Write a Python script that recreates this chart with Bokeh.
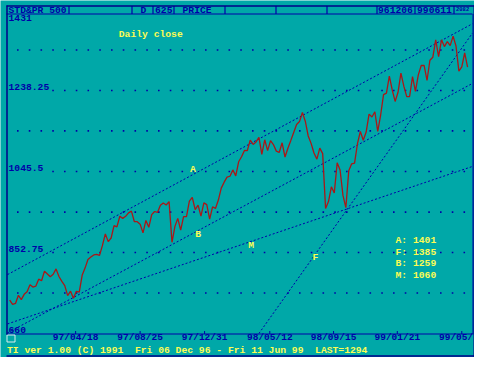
from bokeh.plotting import figure
from bokeh.models import Range1d
from bokeh.embed import file_html
from bokeh.resources import INLINE
from bokeh.core.properties import value

# ---------------- data ----------------
header_cells = ["STD&PR 500", "D", "625", "PRICE", "961206", "990611"]
corner_tag = "2082"
series_name = "Daily close"
footer_text = "TI ver 1.00 (C) 1991  Fri 06 Dec 96 - Fri 11 Jun 99  LAST="

# S&P 500 daily close, read every 4th trading day from 1996-12-06
close = [
    739.6, 729.3, 731.5, 751.0, 740.7, 753.2, 759.5, 776.2, 770.5, 772.5,
    789.3, 785.4, 808.5, 801.8, 795.1, 801.0, 813.7, 795.7, 784.1, 773.9,
    750.1, 760.6, 743.7, 760.4, 758.3, 798.5, 815.6, 836.0, 841.9, 847.0,
    848.3, 846.0, 869.6, 897.0, 878.6, 887.3, 916.9, 913.8, 939.0, 934.0,
    938.8, 947.1, 951.2, 926.5, 926.0, 920.2, 899.5, 929.1, 912.6, 943.0,
    950.3, 948.0, 965.0, 970.6, 965.7, 973.8, 877.0, 914.6, 934.0, 905.9,
    938.2, 938.2, 974.8, 983.8, 954.9, 965.5, 939.5, 970.8, 966.6, 932.0,
    961.5, 957.6, 977.5, 1006.0, 1020.1, 1032.1, 1034.2, 1049.3, 1035.1, 1068.6,
    1080.5, 1095.6, 1095.4, 1120.0, 1110.0, 1115.8, 1126.7, 1086.5, 1121.0, 1095.1,
    1118.9, 1109.5, 1094.0, 1090.8, 1113.9, 1080.0, 1100.7, 1119.5, 1138.5, 1157.3,
    1164.3, 1186.0, 1165.1, 1130.2, 1112.4, 1089.5, 1074.9, 1101.2, 1088.1, 957.3,
    973.9, 1009.1, 994.3, 1066.1, 1049.0, 988.6, 959.4, 1047.5, 1063.9, 1065.3,
    1111.6, 1141.0, 1120.0, 1139.3, 1182.0, 1175.3, 1187.7, 1141.2, 1179.9, 1228.5,
    1231.9, 1272.3, 1239.5, 1212.2, 1234.0, 1279.6, 1248.5, 1223.6, 1224.0, 1271.2,
    1236.2, 1275.5, 1297.7, 1297.8, 1262.1, 1310.2, 1317.3, 1358.6, 1319.0, 1358.8,
    1342.8, 1354.6, 1345.0, 1367.6, 1344.2, 1284.4, 1294.3, 1327.8, 1293.6,
]
day_step = 4
day = list(range(0, day_step * len(close), day_step))

x_tick_day = [91, 180, 269, 359, 447, 535, 624]
x_tick_label = ["97/04/18", "97/08/25", "97/12/31", "98/05/12",
                "98/09/15", "99/01/21", "99/05/27"]

y_label_value = [660.0, 852.75, 1045.5, 1238.25, 1431.0]
y_label_text = ["660", "852.75", "1045.5", "1238.25", "1431"]
y_grid_value = [756.375, 852.75, 948.875, 1045.5, 1142.125, 1238.25, 1334.625]

trend_name = ["A", "F", "B", "M"]
trend_value = [1401, 1385, 1259, 1060]          # value at right edge of chart
trend_anchor_day = [0, 344, 84, 208]
trend_anchor_value = [803, 660, 742, 806]

# ---------------- styling / layout ----------------
TEAL = "#00a8a8"
BLUE = "#0000a8"
DARK = "#000088"
YELLOW = "#fcfc54"
RED = "#a81818"
FONT = value("Liberation Mono")
NBSP = "\u00a0"

W, H = 474, 357
X0, XS = 9.2, 0.7245            # px of day 0, px per trading day
Y0, YS, V0 = 333.0, 81.0 / 192.75, 660.0
RIGHT = 472.0                   # right edge of plot area (px)
CW = 0.6                        # char advance in em


def dx(px):
    return (px - X0) / XS


def dy(py):
    return V0 + (Y0 - py) / YS


def vy(v):
    return Y0 - (v - V0) * YS


p = figure(width=W, height=H, output_backend="svg", toolbar_location=None,
           x_range=Range1d(dx(0), dx(W)),
           y_range=Range1d(dy(H), dy(0)),
           x_axis_location=None, y_axis_location=None, min_border=0,
           background_fill_color=TEAL, border_fill_color=TEAL,
           outline_line_color=None)
p.grid.visible = False


def txt(xs, ys, texts, color, size=9.7, align="left"):
    texts = [t.replace(" ", NBSP) for t in texts]
    p.text(x=xs, y=ys, text=texts, text_color=color, text_font=FONT,
           text_font_size=f"{size}px", text_font_style="bold",
           text_align=align, text_baseline="middle")


# dotted grid rows (dots every 11.75 px)
labelled = set(y_label_value)
dot_x, dot_y = [], []
for v in y_grid_value:
    k0 = 3 if v in labelled else 0
    for k in range(k0, 39):
        dot_x.append(dx(17.3 + 11.75 * k))
        dot_y.append(v)
p.scatter(dot_x, dot_y, marker="square", size=1.6, fill_color=BLUE,
          line_color=None)

# trend lines (value given at the chart's right edge, px 475)
left_d, edge_d, right_d = dx(7.0), dx(475.0), dx(RIGHT)
tx0, ty0, tx1, ty1 = [], [], [], []
for endv, ad, av in zip(trend_value, trend_anchor_day, trend_anchor_value):
    slope = (endv - av) / (edge_d - ad)
    xs = left_d
    vs = av + slope * (left_d - ad)
    if vs < V0:
        xs = ad + (V0 - av) / slope
        vs = V0
    tx0.append(xs)
    ty0.append(vs)
    tx1.append(right_d)
    ty1.append(av + slope * (right_d - ad))
p.segment(x0=tx0, y0=ty0, x1=tx1, y1=ty1,
          line_color=BLUE, line_width=1, line_dash="2 2")

# price line
p.line(day, close, line_color=RED, line_width=1.3)

# trend letters
letter_pos = [(192.3, 169), (315, 257.3), (197.7, 233.7), (250.7, 245)]
txt([dx(a) for a, b in letter_pos], [dy(b) for a, b in letter_pos],
    trend_name, YELLOW, align="center")

# legend block of trend values
leg_y = [240, 251.7, 263.3, 274.7]
txt([dx(395)] * 4, [dy(b) for b in leg_y],
    [f"{n}: {v}" for n, v in zip(trend_name, trend_value)], YELLOW)

# series name
txt([dx(118.3)], [dy(33.7)], [series_name], YELLOW)

# y labels
ylab_y = [dy(max(vy(v) - 3.8, 17.0)) for v in y_label_value]
txt([dx(8.0)] * len(y_label_value), ylab_y, y_label_text, BLUE)

# x axis line, ticks, labels (labels clipped at the plot's right edge)
p.segment(x0=[dx(6)], y0=[dy(333.5)], x1=[dx(RIGHT)], y1=[dy(333.5)],
          line_color=BLUE, line_width=1)
p.segment(x0=x_tick_day, y0=[dy(330.5)] * len(x_tick_day), x1=x_tick_day,
          y1=[dy(333.5)] * len(x_tick_day), line_color=BLUE, line_width=1)
XS_SIZE = 9.5
lab_left, lab_text = [], []
for d, lab in zip(x_tick_day, x_tick_label):
    cx = X0 + XS * d
    left = cx - len(lab) * CW * XS_SIZE / 2
    nfit = int((W - left) / (CW * XS_SIZE))
    lab_left.append(dx(left))
    lab_text.append(lab[:nfit])
txt(lab_left, [dy(337.0)] * len(lab_left), lab_text, BLUE, size=XS_SIZE)

# small square bottom-left
p.quad(left=[dx(6.5)], right=[dx(14.5)], top=[dy(334.5)], bottom=[dy(341.5)],
       fill_color=TEAL, line_color="#d8ecec", line_width=1)

# footer
txt([dx(6.5)], [dy(349.5)], [footer_text + str(round(close[-1]))], YELLOW)

# header bar
sep_x = [68.5, 131.5, 152.5, 173.5, 224.5, 275.5, 326.5, 376.5, 414.5, 453.5]
p.segment(x0=[dx(s) for s in sep_x], y0=[dy(5.5)] * len(sep_x),
          x1=[dx(s) for s in sep_x], y1=[dy(13.5)] * len(sep_x),
          line_color=BLUE, line_width=1.2)
head_x = [8, 140, 154.5, 182, 377.5, 416.5]
txt([dx(h) for h in head_x], [dy(9.8)] * len(head_x), header_cells, BLUE)
txt([dx(455.5)], [dy(8.5)], [corner_tag], BLUE, size=5.5)
p.segment(x0=[dx(6), dx(6)], y0=[dy(5.5), dy(13.5)],
          x1=[dx(474), dx(RIGHT)], y1=[dy(5.5), dy(13.5)],
          line_color=[DARK, BLUE], line_width=[1.5, 1])

# frame lines: left, plot right, outer right, outer bottom
p.segment(x0=[dx(6.5), dx(RIGHT + 0.5), dx(473.5), dx(6)],
          y0=[dy(5), dy(13.5), dy(5), dy(355.5)],
          x1=[dx(6.5), dx(RIGHT + 0.5), dx(473.5), dx(474)],
          y1=[dy(334), dy(334), dy(356.5), dy(355.5)],
          line_color=[DARK, BLUE, DARK, DARK], line_width=[1.5, 1, 1, 1.5])

open("out.html", "w").write(file_html(p, INLINE))
